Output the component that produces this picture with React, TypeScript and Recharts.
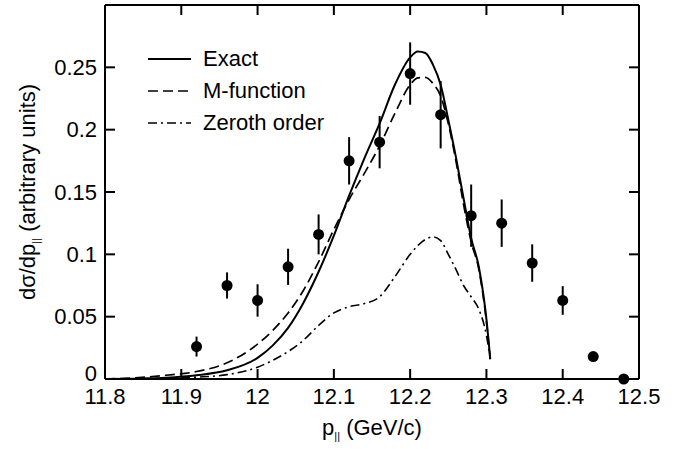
import { ComposedChart, Line, Scatter, ErrorBar, XAxis, YAxis, Legend } from 'recharts'

document.body.style.margin = '0'

const FONT = '"Liberation Sans", Arial, Helvetica, sans-serif'

// momentum grid shared by the three model curves (GeV/c)
const pGrid = [
  11.8, 11.84, 11.88, 11.92, 11.96, 12.0, 12.02, 12.04, 12.06, 12.08, 12.1, 12.12, 12.14, 12.16,
  12.18, 12.2, 12.21, 12.22, 12.23, 12.24, 12.25, 12.26, 12.27, 12.28, 12.29, 12.3, 12.305,
]
const exactVals = [
  0, 0.0003, 0.001, 0.003, 0.007, 0.017, 0.027, 0.041, 0.061, 0.086, 0.115, 0.147, 0.177, 0.205,
  0.236, 0.258, 0.2627, 0.2615, 0.252, 0.236, 0.208, 0.178, 0.145, 0.113, 0.09, 0.048, 0.016,
]
const mFuncVals = [
  0, 0.001, 0.003, 0.006, 0.013, 0.028, 0.039, 0.053, 0.071, 0.094, 0.12, 0.144, 0.165, 0.187,
  0.213, 0.236, 0.2415, 0.242, 0.237, 0.227, 0.205, 0.175, 0.14, 0.11, 0.088, 0.046, 0.016,
]
const zerothVals = [
  0, 0.0002, 0.0006, 0.0015, 0.0035, 0.0095, 0.015, 0.022, 0.031, 0.043, 0.053, 0.058, 0.0605, 0.066,
  0.082, 0.1, 0.107, 0.112, 0.114, 0.111, 0.1, 0.088, 0.075, 0.066, 0.056, 0.035, 0.016,
]

// measured points
const dataP = [11.92, 11.96, 12.0, 12.04, 12.08, 12.12, 12.16, 12.2, 12.24, 12.28, 12.32, 12.36, 12.4, 12.44, 12.48]
const dataY = [0.026, 0.075, 0.063, 0.09, 0.116, 0.175, 0.19, 0.245, 0.212, 0.131, 0.125, 0.093, 0.063, 0.018, 0.0]
const dataErr = [0.008, 0.0105, 0.013, 0.0145, 0.016, 0.019, 0.021, 0.025, 0.027, 0.025, 0.019, 0.015, 0.0115, 0, 0]

const xTicks = [11.8, 11.9, 12, 12.1, 12.2, 12.3, 12.4, 12.5]
const yTicks = [0, 0.05, 0.1, 0.15, 0.2, 0.25]
const X_DOMAIN = [11.8, 12.5]
const Y_DOMAIN = [0, 0.3]

const SERIES = [
  { name: 'Exact', values: exactVals, dash: undefined as string | undefined, width: 2 },
  { name: 'M-function', values: mFuncVals, dash: '10 5', width: 1.7 },
  { name: 'Zeroth order', values: zerothVals, dash: '9 4 2 4', width: 1.6 },
]

const points = dataP.map((x, i) => ({ x, y: dataY[i], err: dataErr[i] }))

// anchor points of the inward frame ticks on all four sides
const innerX = xTicks.slice(1, -1)
const innerY = yTicks.slice(1)
const frameTicks = [
  ...innerX.map((t) => ({ x: t, y: Y_DOMAIN[0], side: 'bottom' })),
  ...innerX.map((t) => ({ x: t, y: Y_DOMAIN[1], side: 'top' })),
  ...innerY.map((t) => ({ x: X_DOMAIN[0], y: t, side: 'left' })),
  ...innerY.map((t) => ({ x: X_DOMAIN[1], y: t, side: 'right' })),
]

const TICK_PX = 10
const axisLine = { stroke: '#000', strokeWidth: 2 }
const tickStyle = { fill: '#000', fontSize: 22, fontFamily: FONT }

function TickMark(p: any) {
  const { cx, cy } = p
  const side = p.side ?? p.payload?.side
  const dx = side === 'left' ? TICK_PX : side === 'right' ? -TICK_PX : 0
  const dy = side === 'bottom' ? -TICK_PX : side === 'top' ? TICK_PX : 0
  return <line x1={cx} y1={cy} x2={cx + dx} y2={cy + dy} stroke="#000" strokeWidth={2} />
}

// y tick labels; the zero label sits a little higher so it clears "11.8"
function YTick(props: any) {
  const { x, y, payload } = props
  const lift = payload.value === 0 ? -6 : 0
  return (
    <text x={x} y={y + lift} dy="0.355em" textAnchor="end" fontFamily={FONT} fontSize={22} fill="#000">
      {payload.value}
    </text>
  )
}

function XTitle(props: any) {
  const vb = props.viewBox || { x: 105, y: 379, width: 534 }
  return (
    <text x={vb.x + vb.width / 2} y={vb.y + 56} textAnchor="middle" fontFamily={FONT} fontSize={22} fill="#000">
      p<tspan fontSize={11} dy={5}>||</tspan>
      <tspan dy={-5}> (GeV/c)</tspan>
    </text>
  )
}

function YTitle(props: any) {
  const vb = props.viewBox || { x: 0, y: 5, height: 374 }
  const cx = vb.x + 35
  const cy = vb.y + vb.height / 2
  return (
    <text x={cx} y={cy} transform={`rotate(-90 ${cx} ${cy})`} textAnchor="middle" fontFamily={FONT} fontSize={22} fill="#000">
      dσ/dp<tspan fontSize={11} dy={5}>||</tspan>
      <tspan dy={-5}> (arbitrary units)</tspan>
    </text>
  )
}

function LegendBox(props: any) {
  const items = (props.payload || []).filter((p: any) => SERIES.some((s) => s.name === p.value))
  return (
    <div style={{ fontFamily: FONT, fontSize: 22, color: '#000' }}>
      {items.map((p: any) => {
        const s = SERIES.find((d) => d.name === p.value)!
        return (
          <div key={s.name} style={{ display: 'flex', alignItems: 'center', height: 32, whiteSpace: 'nowrap' }}>
            <svg width={43} height={10}>
              <line x1={0} y1={5} x2={43} y2={5} stroke="#000" strokeWidth={s.width} strokeDasharray={s.dash} />
            </svg>
            <span style={{ marginLeft: 12 }}>{s.name}</span>
          </div>
        )
      })}
    </div>
  )
}

const commonX = { type: 'number' as const, domain: X_DOMAIN, ticks: xTicks, interval: 0, tickLine: false, tickSize: 0, axisLine }
const commonY = { type: 'number' as const, domain: Y_DOMAIN, ticks: yTicks, interval: 0, tickLine: false, tickSize: 0, axisLine }

export default function App() {
  return (
    <ComposedChart width={678} height={449} margin={{ top: 4, right: 38, bottom: 0, left: 0 }}>
      <XAxis {...commonX} dataKey="x" height={70} tickMargin={9} tick={tickStyle} label={{ content: XTitle }} />
      <XAxis {...commonX} xAxisId="top" dataKey="x" orientation="top" height={1} tick={false} />
      <YAxis {...commonY} dataKey="y" width={105} tickMargin={8} tick={<YTick />} label={{ content: YTitle }} />
      <YAxis {...commonY} yAxisId="right" dataKey="y" orientation="right" width={1} tick={false} />
      <Legend
        layout="vertical"
        align="center"
        verticalAlign="middle"
        content={LegendBox}
        wrapperStyle={{ left: 148, top: 43, width: 'auto' }}
      />
      {SERIES.map((s) => (
        <Line
          key={s.name}
          name={s.name}
          data={pGrid.map((x, i) => ({ x, y: s.values[i] }))}
          dataKey="y"
          type="monotone"
          stroke="#000"
          strokeWidth={s.width}
          strokeDasharray={s.dash}
          dot={false}
          activeDot={false}
          isAnimationActive={false}
        />
      ))}
      <Scatter
        name="frame ticks"
        data={frameTicks}
        dataKey="y"
        legendType="none"
        isAnimationActive={false}
        shape={TickMark}
      />
      <Scatter
        name="data"
        data={points}
        dataKey="y"
        xAxisId="top"
        yAxisId="right"
        legendType="none"
        fill="#000"
        isAnimationActive={false}
        shape={(p: any) => <circle cx={p.cx} cy={p.cy} r={5.5} fill="#000" />}
      >
        <ErrorBar dataKey="err" direction="y" width={0} stroke="#000" strokeWidth={2} />
      </Scatter>
    </ComposedChart>
  )
}
